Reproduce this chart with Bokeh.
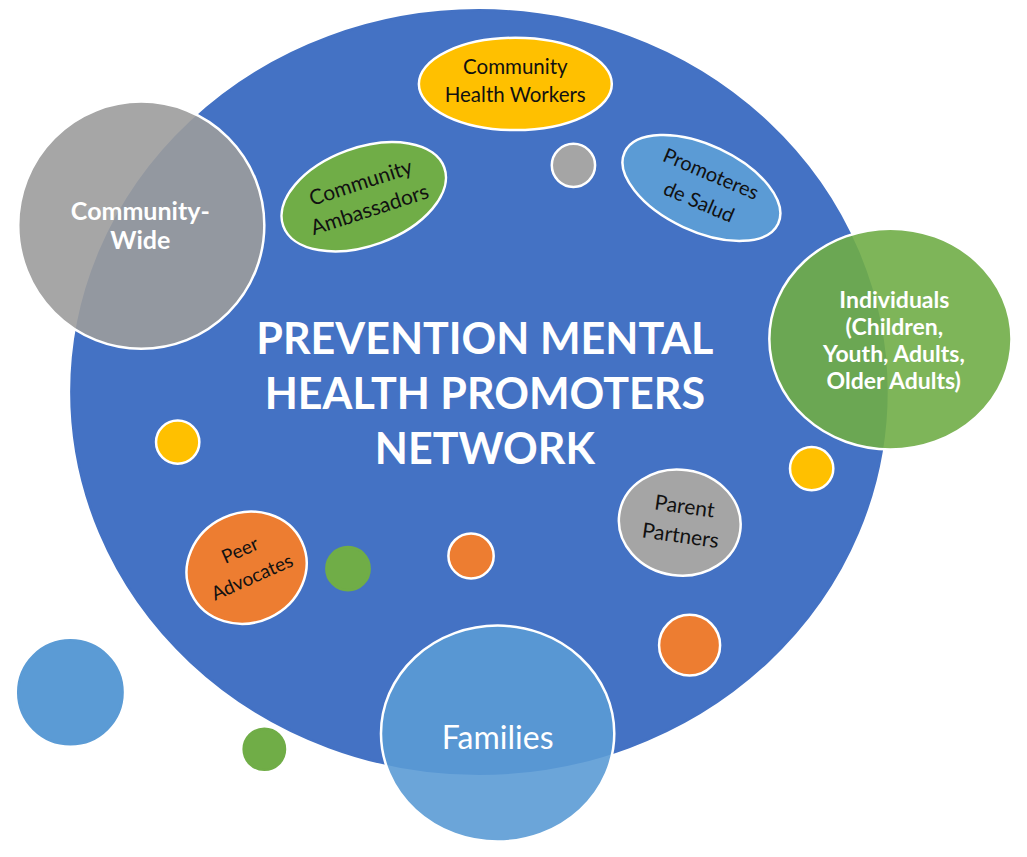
import math
from bokeh.plotting import figure
from bokeh.models import Range1d, ColumnDataSource
from bokeh.core.properties import value
from bokeh.embed import file_html
from bokeh.resources import INLINE

IMG_W, IMG_H = 1027, 857  # reference canvas; positions below are measured from its top-left

# ---- shapes (centre x, centre y from top, width, height, angle deg, colour, alpha, outline) ----
shape_names = ["Network", "Community-Wide", "Individuals", "Families",
               "Community Health Workers", "Community Ambassadors", "Promoteres de Salud",
               "Peer Advocates", "Parent Partners",
               "dot1", "dot2", "dot3", "dot4", "dot5", "dot6", "dot7", "dot8"]
shape_x = [486, 143, 904, 505, 523, 369, 712, 250, 690, 582, 180, 824, 353, 478, 700, 71, 268]
shape_y = [399, 229, 345, 747, 85, 200, 191, 578, 532, 168, 450, 477, 579, 566, 657, 705, 763]
shape_w = [828, 250, 246, 237, 196, 174, 172, 124, 124, 44, 44, 44, 44, 46, 62, 106, 42]
shape_h = [778, 252, 225, 220, 94, 100, 88, 112, 108, 44, 44, 44, 44, 46, 62, 106, 42]
shape_angle = [0, 0, 0, 0, 0, 20, -25, 25, -8, 0, 0, 0, 0, 0, 0, 0, 0]
shape_color = ["#4472C4", "#9C9C9C", "#70AD47", "#5B9BD5", "#FFC000", "#70AD47", "#5B9BD5",
               "#ED7D31", "#A5A5A5", "#A5A5A5", "#FFC000", "#FFC000", "#70AD47", "#ED7D31",
               "#ED7D31", "#5B9BD5", "#70AD47"]
shape_alpha = [1, 0.9, 0.9, 0.9, 1, 1, 1, 1, 1, 1, 1, 1, 1, 1, 1, 1, 1]
shape_line = ["#4472C4", "white", "white", "white", "white", "white", "white", "white", "white",
              "white", "white", "white", "#70AD47", "white", "white", "#5B9BD5", "#70AD47"]

# ---- labels ----
label_lines = [["PREVENTION MENTAL", "HEALTH PROMOTERS", "NETWORK"],
               ["Community-", "Wide"],
               ["Individuals", "(Children,", "Youth, Adults,", "Older Adults)"],
               ["Families"],
               ["Community", "Health Workers"],
               ["Community", "Ambassadors"],
               ["Promoteres", "de Salud"],
               ["Peer", "Advocates"],
               ["Parent", "Partners"]]
label_x = [492, 142, 908, 505, 523, 370, 716, 249, 693]
label_y = [399, 228, 345, 750, 81, 198, 190, 573, 529]
label_angle = [0, 0, 0, 0, 0, 18, -23, 24, -8]
label_size = [43, 25, 23, 32, 20.5, 21, 20, 19, 21]
label_style = ["bold", "bold", "bold", "normal", "normal", "normal", "normal", "normal", "normal"]
label_color = ["white", "white", "white", "white", "#111111", "#111111", "#111111", "#111111", "#111111"]
label_gap = [56, 30, 27.5, 0, 29, 29, 31, 30, 30]

W, H = 1011, 841
p = figure(width=W, height=H, output_backend="svg", toolbar_location=None,
           x_range=Range1d(0, IMG_W), y_range=Range1d(0, IMG_H),
           min_border=0, min_border_left=0, min_border_right=0,
           min_border_top=0, min_border_bottom=0)
p.axis.visible = False
p.grid.visible = False
p.outline_line_color = None
p.background_fill_color = "white"
p.border_fill_color = "white"

src = ColumnDataSource(dict(
    x=shape_x, y=[IMG_H - v for v in shape_y], w=shape_w, h=shape_h,
    a=[math.radians(v) for v in shape_angle], c=shape_color, al=shape_alpha, lc=shape_line))
p.ellipse(x="x", y="y", width="w", height="h", angle="a", source=src,
          fill_color="c", fill_alpha="al", line_color="lc", line_width=2.5)

for lines, x, y, a, s, st, col, gap in zip(label_lines, label_x, label_y, label_angle,
                                          label_size, label_style, label_color, label_gap):
    th = math.radians(a)
    n = len(lines)
    xs, ys = [], []
    for i in range(n):
        d = (i - (n - 1) / 2) * gap
        xs.append(x + d * math.sin(th))
        ys.append((IMG_H - y) - d * math.cos(th))
    p.text(x=xs, y=ys, text=lines, angle=th,
           text_font=value("Lato"), text_font_size=f"{s}px", text_font_style=st,
           text_color=col, text_align="center", text_baseline="middle")

open("out.html", "w").write(file_html(p, INLINE))
